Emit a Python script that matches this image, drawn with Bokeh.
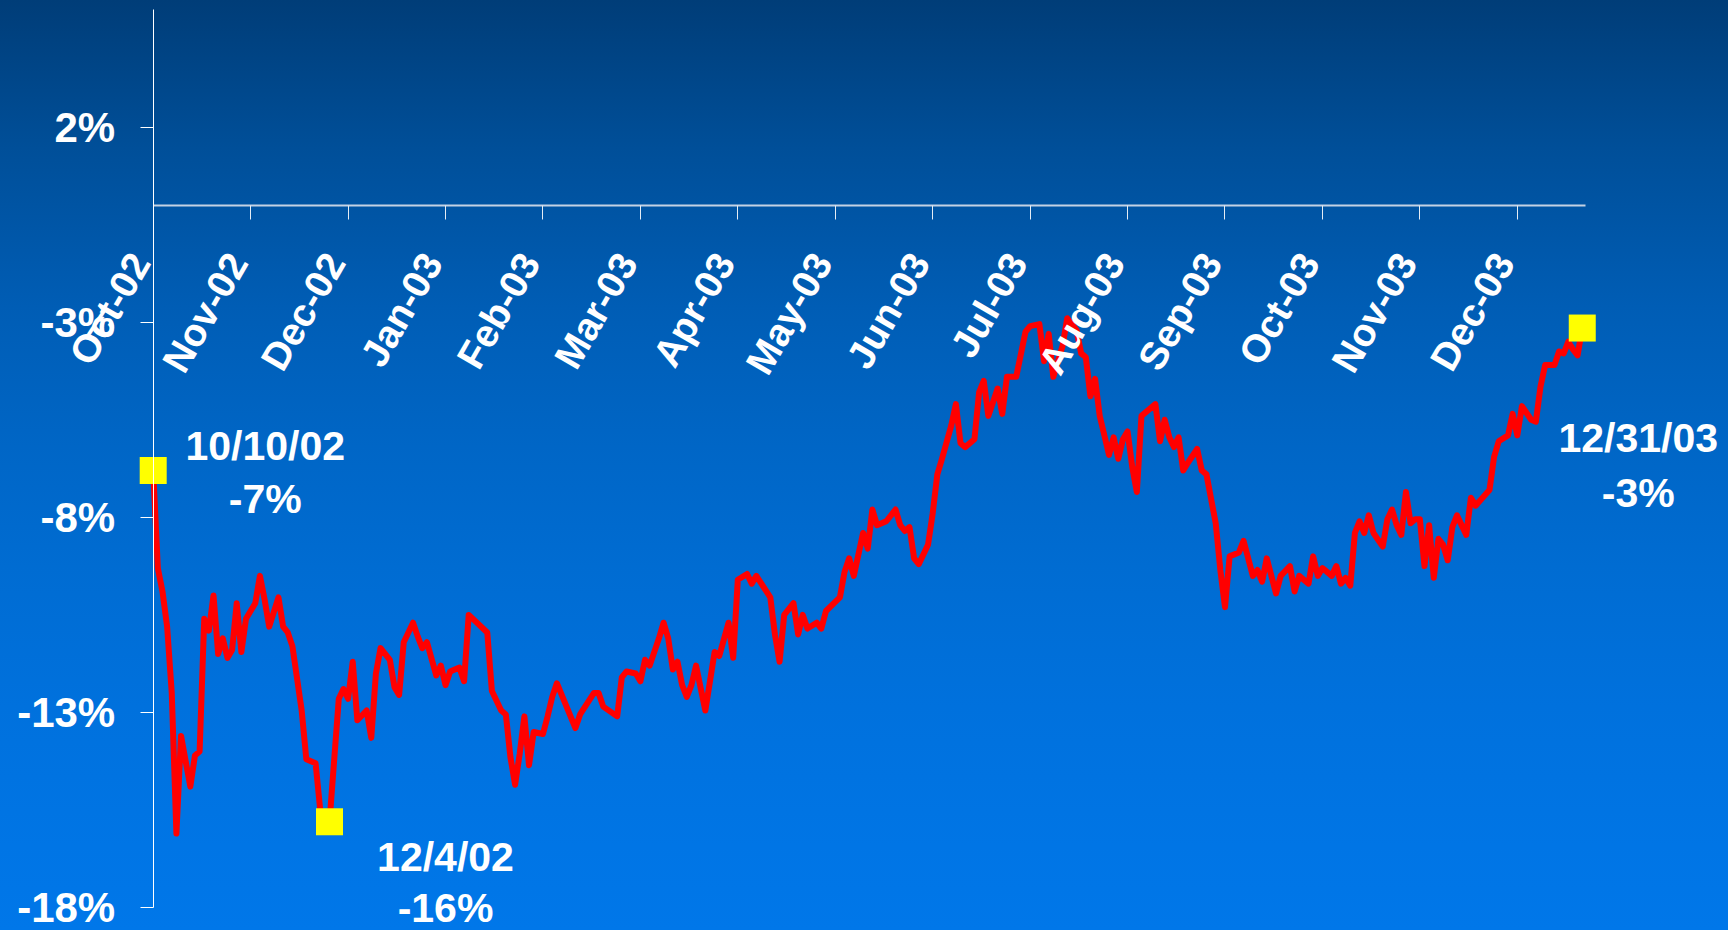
from math import radians
from bokeh.plotting import figure
from bokeh.models import FixedTicker, Label, Range1d, PrintfTickFormatter, LinearAxis
from bokeh.embed import file_html
from bokeh.resources import INLINE

# ---------------- data ----------------
month_labels = ["Oct-02", "Nov-02", "Dec-02", "Jan-03", "Feb-03", "Mar-03", "Apr-03",
                "May-03", "Jun-03", "Jul-03", "Aug-03", "Sep-03", "Oct-03", "Nov-03", "Dec-03"]
month_tick_days = [0, 21, 42, 63, 84, 105, 126, 147, 168, 189, 210, 231, 252, 273, 294]

y_ticks = [2, -3, -8, -13, -18]

# trading-day index (0 = 10/10/02, 308 = 12/31/03) and cumulative return in %
day = [0, 1, 2, 3, 4, 5, 6, 8, 9, 10, 11, 12, 13, 14, 15, 16, 17, 18, 19, 20,
       22, 23, 24, 25, 27, 28, 29, 30, 32, 33, 35, 36, 38, 40, 41, 42, 43, 44, 46, 47,
       48, 49, 51, 52, 53, 54, 56, 57, 58, 59, 61, 62, 63, 64, 66, 67, 68, 72, 73, 75,
       76, 77, 78, 79, 80, 81, 82, 84, 85, 86, 87, 91, 92, 95, 96, 97, 100, 101, 102, 104,
       105, 106, 107, 109, 110, 111, 112, 113, 114, 115, 116, 117, 119, 120, 121, 122, 124, 125, 126, 128,
       129, 130, 133, 134, 135, 136, 138, 139, 140, 141, 143, 144, 145, 148, 149, 150, 151, 153, 154, 155,
       156, 158, 160, 161, 162, 163, 164, 165, 167, 168, 169, 170, 172, 173, 174, 175, 177, 178, 179, 180,
       182, 183, 184, 186, 188, 189, 191, 192, 193, 194, 196, 197, 199, 200, 201, 202, 203, 204, 206, 207,
       208, 209, 210, 211, 212, 213, 216, 217, 218, 219, 220, 221, 222, 223, 225, 226, 227, 229, 230, 231,
       232, 234, 235, 237, 238, 239, 240, 242, 243, 245, 246, 247, 249, 250, 251, 252, 254, 255, 256, 257,
       258, 259, 260, 261, 262, 263, 265, 266, 267, 268, 269, 270, 271, 272, 273, 274, 275, 276, 277, 278,
       279, 280, 281, 283, 284, 285, 288, 289, 290, 292, 293, 294, 295, 297, 298, 299, 300, 302, 303, 304,
       305, 306, 307, 308]
pct = [-6.8, -9.3, -9.9, -10.8, -12.5, -16.1, -13.6, -14.9, -14.1, -14.0, -10.6, -10.9, -10.0, -11.5, -11.1, -11.6, -11.4, -10.2, -11.45, -10.6,
       -10.2, -9.5, -10.1, -10.8, -10.05, -10.8, -10.95, -11.3, -12.95, -14.2, -14.3, -15.5, -15.8, -12.65, -12.4, -12.65, -11.7, -13.2, -12.95, -13.65,
       -12.0, -11.35, -11.65, -12.35, -12.55, -11.2, -10.7, -11.05, -11.35, -11.2, -12.05, -11.8, -12.3, -11.95, -11.85, -12.2, -10.5, -10.95, -12.45, -12.95,
       -13.05, -14.15, -14.85, -14.05, -13.1, -14.35, -13.5, -13.55, -13.1, -12.6, -12.25, -13.4, -13.05, -12.5, -12.5, -12.85, -13.1, -12.1, -11.95, -12.0,
       -12.2, -11.65, -11.8, -11.1, -10.7, -11.1, -11.9, -11.7, -12.3, -12.6, -12.3, -11.8, -12.95, -12.2, -11.45, -11.55, -10.7, -11.6, -9.6, -9.45,
       -9.7, -9.5, -10.05, -11.0, -11.7, -10.5, -10.2, -11.0, -10.5, -10.85, -10.7, -10.85, -10.4, -10.05, -9.4, -9.05, -9.5, -8.4, -8.8, -7.8,
       -8.2, -8.1, -7.8, -8.2, -8.35, -8.25, -9.05, -9.2, -8.7, -7.9, -6.9, -6.5, -5.65, -5.1, -6.1, -6.2, -6.0, -4.8, -4.5, -5.4,
       -4.7, -5.35, -4.4, -4.4, -3.25, -3.1, -3.05, -4.0, -3.3, -4.4, -3.6, -2.9, -3.2, -3.8, -3.9, -4.9, -4.45, -5.4, -6.4, -5.95,
       -6.5, -6.0, -5.8, -6.7, -7.35, -5.4, -5.1, -6.05, -5.5, -5.95, -6.2, -5.95, -6.8, -6.6, -6.25, -6.8, -6.9, -8.15, -9.35, -10.3,
       -9.0, -8.9, -8.6, -9.5, -9.35, -9.65, -9.05, -9.95, -9.5, -9.25, -9.9, -9.5, -9.7, -9.0, -9.5, -9.3, -9.5, -9.25, -9.7, -9.55,
       -9.75, -8.4, -8.1, -8.4, -7.95, -8.4, -8.75, -8.05, -7.8, -8.2, -8.45, -7.35, -8.15, -8.05, -8.05, -9.25, -8.2, -9.55, -8.55, -8.7,
       -9.1, -8.25, -7.95, -8.45, -7.5, -7.7, -7.3, -6.45, -6.05, -5.9, -5.35, -5.9, -5.15, -5.5, -5.55, -4.65, -4.1, -4.1, -3.75, -3.8,
       -3.5, -3.7, -3.85, -3.15]

marked_day = [0, 38, 308]
marked_date = ["10/10/02", "12/4/02", "12/31/03"]
marked_value_text = ["-7%", "-16%", "-3%"]
marked_pct = [pct[day.index(d)] for d in marked_day]

# ---------------- figure ----------------
FONT = "Liberation Sans"
W, H = 1728, 930
# frame covers the whole canvas; axes are placed at fixed locations with bounds
X0_PX, X1_PX = 152.7, 1585.0        # screen x of day 0 and axis end
Y0_PX, PX_PER_PCT = 204.6, 39.03    # screen y of 0 % and scale
x_end_day = 308.7
px_per_day = (X1_PX - X0_PX) / x_end_day
x_range = Range1d(-X0_PX / px_per_day, (W - X0_PX) / px_per_day)
y_range = Range1d(-(H - Y0_PX) / PX_PER_PCT, Y0_PX / PX_PER_PCT)

p = figure(width=W, height=H, x_range=x_range, y_range=y_range,
           output_backend="svg", toolbar_location=None,
           min_border=0, min_border_left=0, min_border_right=0,
           min_border_top=0, min_border_bottom=0)
p.styles = {"background": "linear-gradient(to bottom, #003d78 0%, #004f99 16%, #005db5 33%, "
                          "#0066c6 48%, #006cd2 61%, #0071dd 76%, #0075e5 91%, #0077e9 100%)"}
p.background_fill_alpha = 0
p.border_fill_alpha = 0
p.outline_line_color = None
p.grid.visible = False

# y axis at day 0
ya = p.yaxis[0]
ya.fixed_location = 0
ya.bounds = (-18, 5)
ya.ticker = FixedTicker(ticks=y_ticks)
ya.formatter = PrintfTickFormatter(format="%d%%")
ya.axis_line_color = "white"
ya.axis_line_width = 1
ya.major_tick_line_color = "white"
ya.major_tick_out = 13
ya.major_tick_in = 0
ya.minor_tick_line_color = None
ya.major_label_standoff = 25
ya.major_label_text_color = "white"
ya.major_label_text_font = FONT
ya.major_label_text_font_style = "bold"
ya.major_label_text_font_size = "42px"

# x axis crossing at 0 %: line + tick marks
xa = p.xaxis[0]
xa.fixed_location = 0
xa.bounds = (0, x_end_day)
xa.ticker = FixedTicker(ticks=month_tick_days)
xa.major_label_overrides = {t: "" for t in month_tick_days}
xa.axis_line_color = "#c4d2e4"
xa.axis_line_width = 2
xa.major_tick_line_color = "#e6edf5"
xa.major_tick_out = 14
xa.major_tick_in = 0
xa.minor_tick_line_color = None

# month labels: rotated, their ends sitting just left of each tick (as in the original)
label_shift = -13 / px_per_day
label_pos = [t + label_shift for t in month_tick_days]
xl = LinearAxis(fixed_location=0, ticker=FixedTicker(ticks=label_pos),
                major_label_overrides=dict(zip(label_pos, month_labels)),
                axis_line_color=None, major_tick_line_color=None, minor_tick_line_color=None,
                major_tick_out=14, major_tick_in=0,
                major_label_orientation=radians(60), major_label_standoff=37,
                major_label_text_color="white", major_label_text_font=FONT,
                major_label_text_font_style="bold", major_label_text_font_size="39px")
p.add_layout(xl, "below")

# series
p.line(day, pct, line_color="#ff0000", line_width=6, line_join="round", line_cap="round")
p.scatter(marked_day, marked_pct, marker="square", size=27, fill_color="#ffff00", line_color=None)

# annotations: (x offset, y offset of date line, y offset of value line)
offsets = [(112, 25, -28), (116, -35, -86), (56, -110, -165)]
for d, v, t1, t2, (dx, dy1, dy2) in zip(marked_day, marked_pct, marked_date, marked_value_text, offsets):
    for txt, dy in ((t1, dy1), (t2, dy2)):
        p.add_layout(Label(x=d, y=v, x_offset=dx, y_offset=dy, text=txt,
                           text_align="center", text_baseline="alphabetic",
                           text_color="white", text_font=FONT, text_font_style="bold",
                           text_font_size="41px"))

open("out.html", "w").write(file_html(p, INLINE))
